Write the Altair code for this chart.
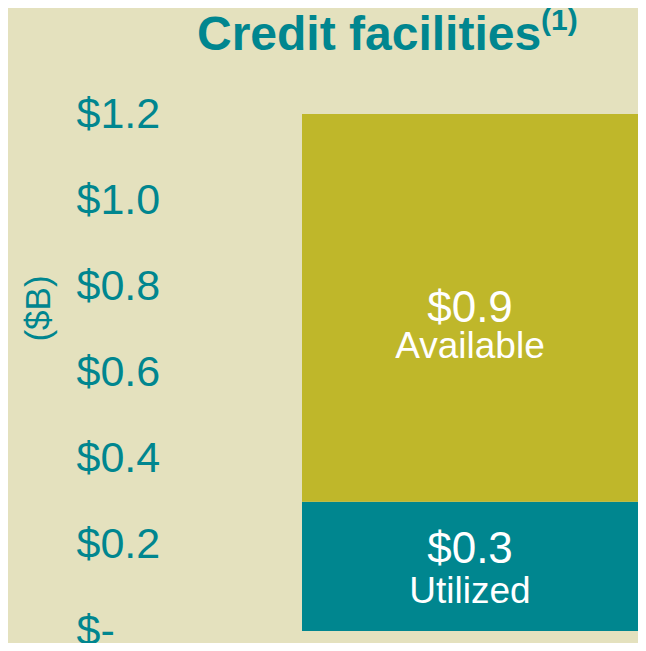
import altair as alt
import pandas as pd

# ---- data ----
categories = ["Utilized", "Available"]
values = [0.3, 0.9]
value_labels = ["$0.3", "$0.9"]
group = ["Credit facilities"]
tick_values = [0, 0.2, 0.4, 0.6, 0.8, 1.0, 1.2]
title_text = ["Credit facilities"]
title_note = ["(1)"]
axis_title = "($B)"

TEAL = "#00868F"
OLIVE = "#BFB72A"
BG = "#E4E1BE"
FONT = "Liberation Sans"

df = pd.DataFrame({
    "group": group * len(categories),
    "category": categories,
    "value": values,
    "label": value_labels,
})
df["y1"] = df["value"].cumsum()
df["y0"] = df["y1"] - df["value"]
df["mid"] = (df["y0"] + df["y1"]) / 2

W, H = 336, 517
xenc = alt.X("group:N", scale=alt.Scale(paddingInner=0, paddingOuter=0), axis=None)
yscale = alt.Scale(domain=[0, 1.2], nice=False, zero=True)

yaxis = alt.Axis(
    values=tick_values,
    labelExpr="datum.value == 0 ? '$-' : '$' + format(datum.value, '.1f')",
    labelAlign="left",
    labelBaseline="middle",
    labelPadding=226,
    labelFontSize=43,
    labelColor=TEAL,
    labelFont=FONT,
    labelLimit=300,
    ticks=False,
    tickSize=0,
    domain=False,
    grid=False,
    title=axis_title,
    titleFontSize=35,
    titleFontWeight="normal",
    titleColor=TEAL,
    titleFont=FONT,
    titleAngle=270,
    titleAlign="center",
    titleBaseline="middle",
    titleX=-264,
    titleY=194,
)

base = alt.Chart(df)

bars = base.mark_bar().encode(
    x=xenc,
    y=alt.Y("y0:Q", scale=yscale, axis=yaxis),
    y2="y1:Q",
    color=alt.Color(
        "category:N",
        scale=alt.Scale(domain=categories, range=[TEAL, OLIVE]),
        legend=None,
    ),
)


def seg_text(cat, field, dy, size):
    return base.transform_filter(alt.datum.category == cat).mark_text(
        dy=dy, baseline="alphabetic", align="center", fontSize=size,
        color="white", font=FONT,
    ).encode(
        x=xenc,
        y=alt.Y("mid:Q", scale=yscale, axis=yaxis),
        text=alt.Text(field + ":N"),
    )


util_val = seg_text("Utilized", "label", -3.5, 44)
util_cat = seg_text("Utilized", "category", 36.5, 37)
avail_val = seg_text("Available", "label", 14, 44)
avail_cat = seg_text("Available", "category", 50, 37)

title_main = alt.Chart(pd.DataFrame({"t": title_text})).mark_text(
    align="left", baseline="alphabetic", fontSize=48, fontWeight="bold",
    color=TEAL, font=FONT,
).encode(x=alt.value(-105), y=alt.value(-64), text="t:N")

title_sup = alt.Chart(pd.DataFrame({"t": title_note})).mark_text(
    align="left", baseline="alphabetic", fontSize=30, fontWeight="bold",
    color=TEAL, font=FONT,
).encode(x=alt.value(239), y=alt.value(-84), text="t:N")

chart = alt.layer(
    bars, util_val, util_cat, avail_val, avail_cat, title_main, title_sup
).properties(
    width=W,
    height=H,
    autosize="none",
    padding={"left": 294, "top": 106, "right": 0, "bottom": 12},
    background=BG,
).configure_view(stroke=None)

chart.save("out.html", embed_options={"renderer": "svg", "actions": False})
